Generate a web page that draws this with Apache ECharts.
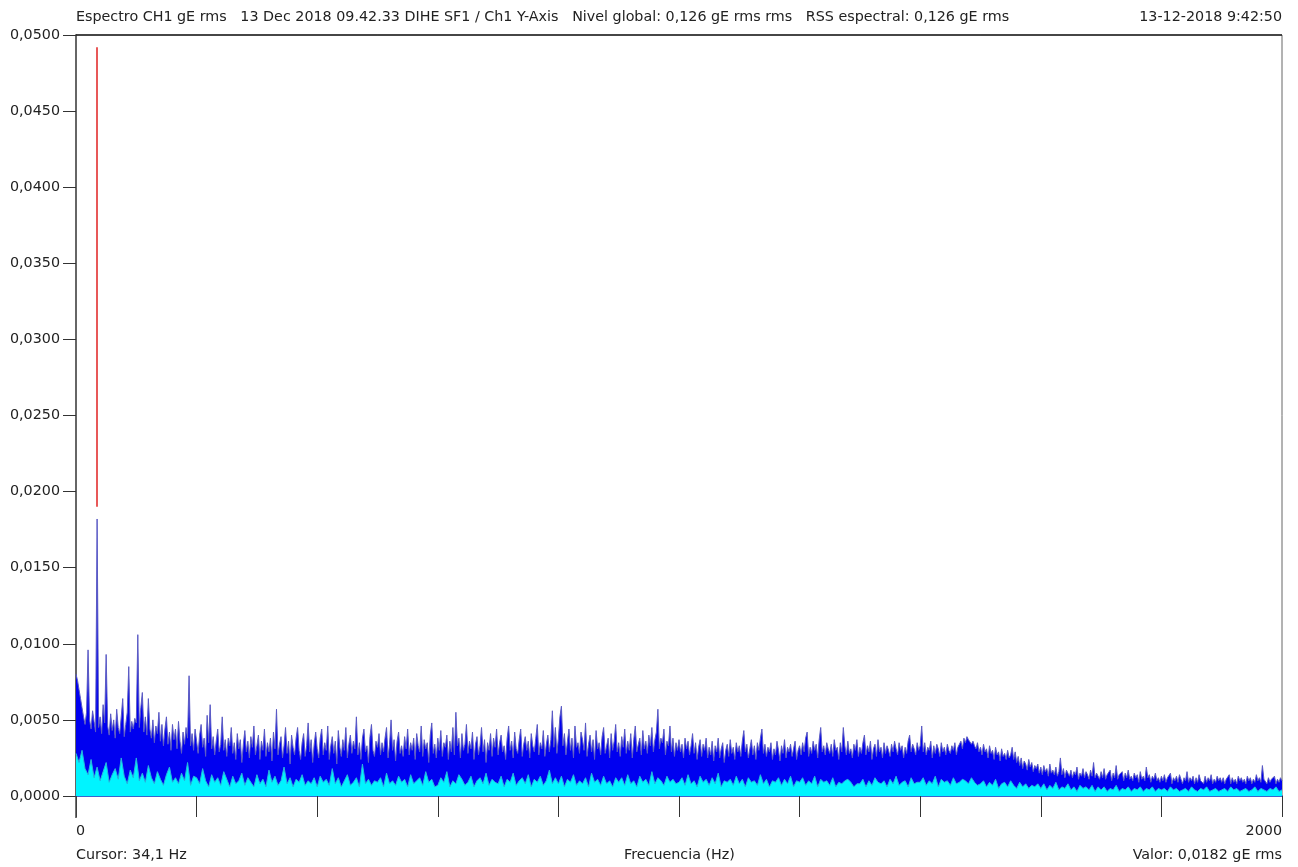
<!DOCTYPE html>
<html>
<head>
<meta charset="utf-8">
<script src="https://cdn.jsdelivr.net/npm/echarts@6/dist/echarts.min.js"></script>
<style>
html,body{margin:0;padding:0;background:#fff;}
#chart{width:1298px;height:867px;}
</style>
</head>
<body>
<div id="chart"></div>
<script>
// ---- DATA ----
// Spectrum amplitudes in units of 0.0001 gE rms, blue: one value every 2.5 Hz from 0 to 2000 Hz (one row = 50 Hz)
const BLUE_STEP_HZ = 2.5;
const blueE4 = [
80,76,70,64,58,52,47,55,96,50,44,56,49,42,182,45,52,41,60,48,
93,46,40,54,43,50,38,57,45,41,52,64,39,47,55,85,42,49,44,51,
48,106,45,58,68,42,52,40,64,44,38,50,35,46,41,55,36,47,33,44,
52,34,42,30,47,37,44,31,49,36,28,42,34,45,38,79,33,41,30,44,
36,28,40,47,32,38,26,53,35,60,31,39,27,36,44,29,34,52,30,37,
26,38,33,45,28,35,24,41,31,37,22,34,43,29,36,25,39,32,46,27,
33,40,24,36,30,44,26,35,29,38,23,42,31,57,27,34,39,25,33,45,
28,36,21,40,32,27,38,45,30,24,35,41,26,33,48,29,37,22,34,42,
31,25,38,44,27,35,30,46,24,33,39,28,36,21,43,32,26,37,30,45,
25,34,40,28,36,31,52,27,35,24,38,44,29,33,22,39,47,30,26,36,
32,41,27,35,29,38,45,25,34,50,30,37,23,36,42,28,33,26,39,31,
44,27,35,30,38,24,41,33,29,46,26,37,31,35,22,40,48,28,34,25,
38,30,43,26,35,32,40,24,36,29,45,27,55,33,38,25,41,30,34,47,
28,36,31,42,24,34,39,27,33,45,29,37,22,35,30,41,26,38,32,44,
27,35,40,29,33,24,38,46,30,36,25,42,31,28,37,44,26,34,39,30,
36,25,41,33,29,38,47,27,35,31,43,26,34,40,29,37,56,32,45,28,
38,52,59,33,41,27,36,44,30,38,25,46,32,35,28,42,37,30,48,26,
34,40,29,37,24,43,31,35,27,39,45,28,33,38,25,41,30,36,47,29,
35,26,39,32,44,28,36,30,41,25,37,46,29,34,38,27,43,31,36,28,
40,33,45,29,37,42,57,31,38,35,44,27,36,33,46,29,38,26,35,30,
37,29,34,25,38,31,36,27,33,41,28,35,24,32,37,26,34,30,38,25,
32,27,36,23,33,29,38,25,31,35,22,30,34,26,37,28,32,24,35,29,
33,26,36,43,29,34,25,31,37,27,33,24,35,30,38,44,28,34,26,32,
29,35,24,31,27,36,30,23,33,28,37,25,32,29,34,26,31,36,24,30,
33,27,35,29,38,42,26,32,28,36,30,34,25,37,45,29,33,27,35,31,
28,34,26,37,30,32,24,35,29,45,33,27,36,28,31,25,34,30,37,26,
32,28,35,40,27,33,29,36,24,31,34,26,37,29,32,25,35,28,33,30,
26,34,29,36,31,27,35,30,33,25,32,28,36,40,29,34,31,27,35,30,
33,46,29,35,27,32,30,36,25,33,28,34,31,26,35,29,32,27,34,30,
28,33,30,35,27,32,34,36,31,38,35,39,37,38,34,36,33,31,35,29,
32,27,34,29,31,25,33,28,30,24,32,27,29,23,31,26,28,24,30,25,
27,32,24,29,22,26,20,25,18,23,21,17,24,19,22,16,20,18,21,15,
19,14,20,16,18,13,21,15,17,14,19,13,16,25,14,18,12,17,15,13,
17,12,16,14,19,11,15,13,18,12,16,14,11,17,13,22,12,15,14,11,
16,12,18,11,14,13,17,10,15,12,20,11,14,13,16,10,15,12,17,11,
13,10,15,12,14,9,16,11,13,10,19,12,14,9,13,11,15,10,12,9,
13,10,14,9,12,11,15,8,12,10,13,9,14,11,8,12,10,16,9,12,
10,13,8,12,9,14,10,11,8,13,9,12,10,14,8,11,9,13,10,12,
9,12,8,11,10,14,8,12,9,11,8,13,10,12,9,11,8,13,10,12,
8,11,9,14,10,12,9,20,11,10,8,12,9,11,10,13,8,11,9,12,
10
];
// Lower (cyan) spectrum in units of 0.0001 gE rms, one value every 5 Hz from 0 to 2000 Hz (one row = 100 Hz)
const CYAN_STEP_HZ = 5;
const cyanE4 = [
28,22,30,18,14,24,12,19,10,16,22,9,14,18,11,25,13,8,17,12,
25,10,15,9,20,12,8,16,11,7,14,19,9,12,8,15,10,22,7,13,
12,8,18,10,6,14,9,12,7,16,11,6,13,8,10,15,7,12,9,6,
14,8,11,6,17,9,13,7,10,19,8,12,6,11,9,14,7,10,8,12,
6,13,9,11,7,18,8,12,6,10,14,7,9,12,6,21,8,11,7,10,
9,12,6,15,8,10,7,13,9,11,6,14,8,10,12,7,16,9,11,6,
7,12,9,16,6,10,8,14,11,7,9,13,6,10,12,8,15,7,11,9,
8,13,6,11,9,15,7,10,12,8,14,6,11,9,13,7,10,17,8,12,
8,13,6,11,9,14,7,10,8,12,6,15,9,11,7,13,8,10,6,12,
9,12,7,14,8,10,6,13,9,11,7,16,8,12,10,7,13,9,11,8,
9,12,7,14,8,10,6,13,9,11,7,12,8,15,6,10,9,11,7,13,
8,11,6,12,9,10,7,14,8,11,6,10,9,12,7,11,8,13,6,10,
9,12,7,10,8,13,6,11,9,10,7,12,6,9,8,10,11,9,6,8,
8,11,6,10,7,12,9,8,10,6,11,8,13,7,9,10,6,12,8,9,
9,12,7,10,8,13,6,11,9,10,7,12,8,9,11,10,8,12,9,7,
8,10,6,9,7,11,5,8,9,6,10,7,5,9,6,8,5,7,6,8,
5,8,4,7,5,9,4,6,5,8,4,6,3,7,5,6,4,7,3,6,
4,6,3,5,4,7,3,5,4,6,3,5,4,6,3,5,4,6,3,5,
4,5,3,6,4,5,3,4,5,3,6,4,3,5,4,6,3,4,5,3,
4,5,3,6,4,5,3,4,5,3,4,6,3,5,4,3,5,4,6,3,
4
];
// Cursor marker (Hz, from/to amplitude in 0.0001 gE)
const cursorHz = 34.1;
const cursorTopE4 = 492;
const cursorBottomE4 = 190;
// Axis tick labels
const yTickLabels = ['0,0000','0,0050','0,0100','0,0150','0,0200','0,0250','0,0300','0,0350','0,0400','0,0450','0,0500'];
const xTickLabels = {0:'0', 2000:'2000'};
// Texts
const titleText = 'Espectro CH1 gE rms   13 Dec 2018 09.42.33 DIHE SF1 / Ch1 Y-Axis   Nivel global: 0,126 gE rms rms   RSS espectral: 0,126 gE rms';
const dateText = '13-12-2018 9:42:50';
const cursorText = 'Cursor: 34,1 Hz';
const axisNameText = 'Frecuencia (Hz)';
const valueText = 'Valor: 0,0182 gE rms';

// ---- CHART ----
const FONT = "'DejaVu Sans',sans-serif";
const FS = 14.3;
const chart = echarts.init(document.getElementById('chart'), null, {renderer:'canvas'});
const blueData = blueE4.map((v,i)=>[i*BLUE_STEP_HZ, v]);
const cyanData = cyanE4.map((v,i)=>[i*CYAN_STEP_HZ, v]);

const option = {
  animation:false,
  backgroundColor:'#ffffff',
  grid:{left:76, right:16, top:35, bottom:71, show:true, borderColor:'#666', borderWidth:1, backgroundColor:'transparent'},
  xAxis:{
    type:'value', min:0, max:2000, interval:200,
    axisLine:{show:true, onZero:false, lineStyle:{color:'#3a64cc', width:2}},
    axisTick:{show:true, length:21, lineStyle:{color:'#333', width:1}},
    splitLine:{show:false},
    axisLabel:{
      show:true, margin:28, color:'#222', fontFamily:FONT, fontSize:FS,
      alignMinLabel:'left', alignMaxLabel:'right',
      formatter:(v)=> (xTickLabels[v] !== undefined ? xTickLabels[v] : '')
    }
  },
  yAxis:{
    type:'value', min:0, max:500, interval:50,
    axisLine:{show:true, lineStyle:{color:'#666', width:2}},
    axisTick:{show:true, length:13, lineStyle:{color:'#333', width:1}},
    splitLine:{show:false},
    axisLabel:{
      margin:16, color:'#222', fontFamily:FONT, fontSize:FS,
      formatter:(v)=> yTickLabels[Math.round(v/50)]
    }
  },
  series:[
    {
      type:'line', data:blueData, symbol:'none', silent:true,
      lineStyle:{color:'#5a5ac4', width:1},
      areaStyle:{color:'#0000f0', opacity:1},
      z:2,
      markLine:{
        silent:true, symbol:['none','none'], label:{show:false},
        lineStyle:{color:'#e02020', width:1.5, type:'solid'},
        data:[[{coord:[cursorHz, cursorTopE4]},{coord:[cursorHz, cursorBottomE4]}]]
      }
    },
    {
      type:'line', data:cyanData, symbol:'none', silent:true,
      lineStyle:{color:'#28b4dc', width:1},
      areaStyle:{color:'#00f4ff', opacity:1},
      z:3
    }
  ],
  graphic:[
    {type:'line', z:10, shape:{x1:76, y1:35, x2:1282, y2:35}, style:{stroke:'#222', lineWidth:1.5}},
    {type:'line', z:10, shape:{x1:76, y1:796, x2:76, y2:818}, style:{stroke:'#444', lineWidth:1.5}},
    {type:'text', left:76, top:10, style:{text:titleText, font:FS+'px '+FONT, fill:'#222'}},
    {type:'text', right:16, top:10, style:{text:dateText, font:FS+'px '+FONT, fill:'#222', textAlign:'right'}},
    {type:'text', left:76, top:848, style:{text:cursorText, font:FS+'px '+FONT, fill:'#222'}},
    {type:'text', left:624, top:848, style:{text:axisNameText, font:FS+'px '+FONT, fill:'#222'}},
    {type:'text', right:16, top:848, style:{text:valueText, font:FS+'px '+FONT, fill:'#222', textAlign:'right'}}
  ]
};
chart.setOption(option);
</script>
</body>
</html>
